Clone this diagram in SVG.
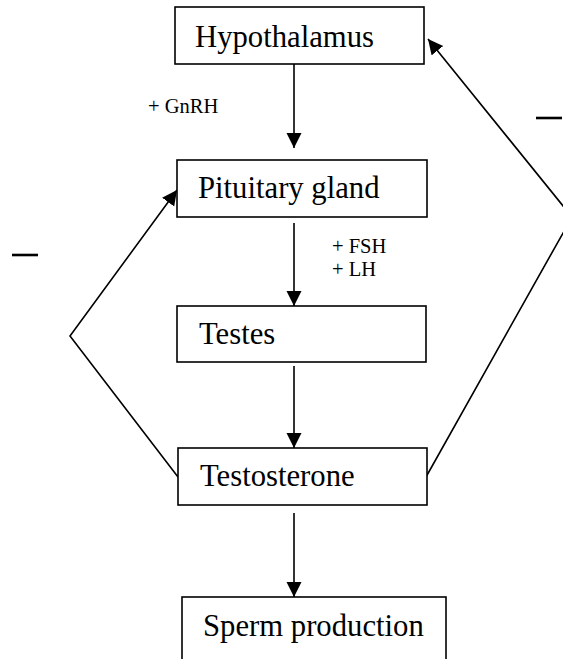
<svg xmlns="http://www.w3.org/2000/svg" width="563" height="659" viewBox="0 0 563 659">
<style>
.box{fill:#fff;stroke:#000;stroke-width:1.6}
.lbl{font-family:"Liberation Serif","Times New Roman",serif;font-size:30.7px;fill:#000}
.small{font-family:"Liberation Serif","Times New Roman",serif;font-size:20.5px;fill:#000}
.con{fill:none;stroke:#000;stroke-width:1.6}
.minus{stroke:#000;stroke-width:2.6}
</style>
<defs>
<marker id="ah" markerUnits="userSpaceOnUse" markerWidth="16" markerHeight="16" viewBox="0 0 16 16" refX="15" refY="7.5" orient="auto">
<path d="M0,0 L15,7.5 L0,15 z" fill="#000"/>
</marker>
</defs>
<rect width="563" height="659" fill="#fff"/>
<g id="connectors">
<line class="con" x1="294" y1="64" x2="294" y2="148" marker-end="url(#ah)"/>
<line class="con" x1="294" y1="223" x2="294" y2="306" marker-end="url(#ah)"/>
<line class="con" x1="294" y1="366" x2="294" y2="448" marker-end="url(#ah)"/>
<line class="con" x1="294" y1="513" x2="294" y2="597" marker-end="url(#ah)"/>
<polyline class="con" points="178,477 70,336 177,190" marker-end="url(#ah)"/>
<polyline class="con" points="426,477 572,217 428,39" marker-end="url(#ah)"/>
</g>
<g id="hypothalamus">
<rect class="box" x="175" y="7" width="249" height="57"/>
<text class="lbl" x="195" y="47">Hypothalamus</text>
</g>
<g id="pituitary">
<rect class="box" x="177" y="160" width="250" height="57"/>
<text class="lbl" x="198" y="198">Pituitary gland</text>
</g>
<g id="testes">
<rect class="box" x="177" y="306" width="249" height="56"/>
<text class="lbl" x="199" y="344">Testes</text>
</g>
<g id="testosterone">
<rect class="box" x="178" y="448" width="249" height="57"/>
<text class="lbl" x="200" y="486">Testosterone</text>
</g>
<g id="sperm">
<rect class="box" x="182" y="597" width="264" height="80"/>
<text class="lbl" x="203" y="636">Sperm production</text>
</g>
<g id="labels">
<text class="small" x="148" y="113">+ GnRH</text>
<text class="small" x="332" y="253">+ FSH</text>
<text class="small" x="332" y="276">+ LH</text>
<line class="minus" x1="12" y1="255" x2="38" y2="255"/>
<line class="minus" x1="536" y1="118" x2="562" y2="118"/>
</g>
</svg>
